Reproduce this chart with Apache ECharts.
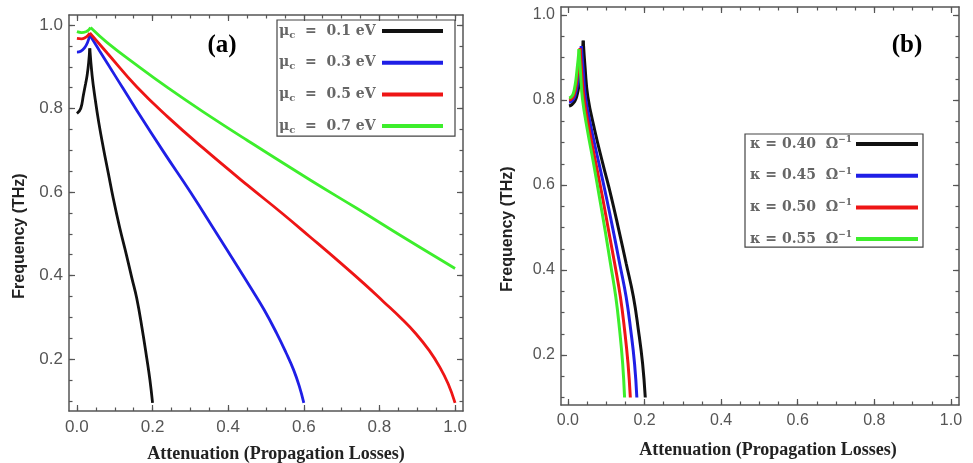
<!DOCTYPE html>
<html>
<head>
<meta charset="utf-8">
<script src="https://cdn.jsdelivr.net/npm/echarts@6/dist/echarts.min.js"></script>
<style>
  html, body { margin: 0; padding: 0; background: #fff; }
  #chart { width: 973px; height: 463px; }
</style>
</head>
<body>
<div id="chart"></div>
<script>
// tick labels
const xTicks = [0, 0.2, 0.4, 0.6, 0.8, 1.0];
const yTicks = [0.2, 0.4, 0.6, 0.8, 1.0];

// (a) chemical potential, [attenuation, frequency]
const muValues = ['0.1', '0.3', '0.5', '0.7'];
const mu01 = [[0.000,0.788],[0.010,0.800],[0.017,0.832],[0.023,0.860],[0.027,0.880],[0.031,0.910],[0.034,0.944],
  [0.040,0.880],[0.048,0.824],[0.058,0.765],[0.070,0.705],[0.083,0.645],[0.096,0.585],[0.113,0.515],[0.131,0.449],
  [0.145,0.395],[0.158,0.346],[0.172,0.275],[0.185,0.200],[0.193,0.150],[0.200,0.095]];
const mu03 = [[0.000,0.935],[0.010,0.937],[0.020,0.945],[0.028,0.958],[0.034,0.976],
  [0.060,0.938],[0.100,0.880],[0.158,0.796],[0.230,0.695],[0.300,0.600],[0.370,0.500],[0.420,0.428],[0.458,0.373],
  [0.495,0.318],[0.528,0.262],[0.553,0.215],[0.573,0.174],[0.588,0.135],[0.600,0.095]];
const mu05 = [[0.000,0.968],[0.012,0.967],[0.022,0.970],[0.029,0.975],[0.034,0.981],
  [0.080,0.933],[0.158,0.852],[0.240,0.780],[0.334,0.705],[0.450,0.617],[0.540,0.551],[0.616,0.493],[0.700,0.428],
  [0.760,0.380],[0.810,0.338],[0.858,0.297],[0.897,0.260],[0.932,0.220],[0.960,0.180],[0.982,0.140],[1.000,0.095]];
const mu07 = [[0.000,0.984],[0.012,0.982],[0.024,0.984],[0.031,0.988],[0.036,0.994],
  [0.080,0.958],[0.158,0.904],[0.240,0.850],[0.334,0.792],[0.450,0.724],[0.620,0.627],[0.740,0.561],[0.870,0.488],
  [1.000,0.417]];

// (b) conductivity
const kappaValues = ['0.40', '0.45', '0.50', '0.55'];
const k040 = [[0.003,0.786],[0.010,0.789],[0.018,0.797],[0.024,0.812],[0.029,0.836],[0.033,0.870],[0.037,0.905],[0.040,0.940],
  [0.045,0.875],[0.052,0.808],[0.070,0.729],[0.091,0.651],[0.113,0.573],[0.133,0.494],[0.152,0.416],[0.171,0.337],
  [0.184,0.259],[0.195,0.180],[0.202,0.100]];
const k045 = [[0.003,0.795],[0.009,0.797],[0.016,0.804],[0.021,0.818],[0.026,0.842],[0.029,0.872],[0.032,0.900],[0.035,0.927],
  [0.040,0.870],[0.046,0.806],[0.062,0.729],[0.081,0.651],[0.100,0.573],[0.118,0.494],[0.135,0.416],[0.152,0.337],
  [0.164,0.259],[0.174,0.180],[0.180,0.100]];
const k050 = [[0.003,0.800],[0.008,0.802],[0.014,0.808],[0.019,0.822],[0.023,0.845],[0.026,0.872],[0.029,0.898],[0.032,0.922],
  [0.036,0.866],[0.042,0.804],[0.056,0.729],[0.073,0.651],[0.090,0.573],[0.106,0.494],[0.122,0.416],[0.137,0.337],
  [0.148,0.259],[0.157,0.180],[0.163,0.100]];
const k055 = [[0.003,0.805],[0.008,0.807],[0.013,0.813],[0.017,0.826],[0.021,0.848],[0.024,0.873],[0.027,0.898],[0.029,0.920],
  [0.033,0.864],[0.038,0.803],[0.051,0.729],[0.067,0.651],[0.082,0.573],[0.097,0.494],[0.111,0.416],[0.125,0.337],
  [0.135,0.259],[0.143,0.180],[0.148,0.100]];

const colors = ['#111111', '#1f1fe6', '#ee1515', '#3dee2c'];
const frameColor = '#555';

const chart = echarts.init(document.getElementById('chart'));

function steps(from, to, step) {
  const out = [];
  for (let v = from; v <= to + 1e-9; v += step) out.push(+v.toFixed(3));
  return out;
}

// one side of the frame: the line + ticks (and labels if asked)
function axis(gridIndex, pos, range, ticks, len, labelSize) {
  return {
    type: 'value', gridIndex, position: pos, min: range[0], max: range[1],
    axisLine: { show: len > 4, onZero: false, lineStyle: { color: frameColor, width: 1.5 } },
    axisTick: { show: true, inside: true, length: len, customValues: ticks, lineStyle: { color: frameColor, width: 1.2 } },
    axisLabel: labelSize ? {
      show: true, customValues: ticks, formatter: v => v.toFixed(1),
      fontFamily: 'Liberation Sans', fontSize: labelSize, color: '#555', margin: pos === 'left' ? 6 : 8
    } : { show: false },
    splitLine: { show: false }
  };
}

function frame(gridIndex, xr, yr, labelSize) {
  const xMinor = steps(0, 1, 0.05), yMinor = steps(0.1, 1, 0.05);
  return {
    x: [axis(gridIndex, 'bottom', xr, xTicks, 6, labelSize), axis(gridIndex, 'bottom', xr, xMinor, 3.5),
        axis(gridIndex, 'top', xr, xTicks, 6), axis(gridIndex, 'top', xr, xMinor, 3.5)],
    y: [axis(gridIndex, 'left', yr, yTicks, 6, labelSize), axis(gridIndex, 'left', yr, yMinor, 3.5),
        axis(gridIndex, 'right', yr, yTicks, 6), axis(gridIndex, 'right', yr, yMinor, 3.5)]
  };
}

// rise and fall drawn separately so the cusp stays sharp
function curve(name, pts, color, axisIndex, width) {
  let k = 0;
  pts.forEach((p, i) => { if (p[1] > pts[k][1]) k = i; });
  const base = {
    name, type: 'line', xAxisIndex: axisIndex, yAxisIndex: axisIndex, symbol: 'none', smooth: 0.45,
    lineStyle: { color, width }, itemStyle: { color }, emphasis: { disabled: true }, animation: false
  };
  return [{ ...base, data: pts.slice(0, k + 1) }, { ...base, data: pts.slice(k) }];
}

const leftNames = muValues.map(v => 'μc = ' + v + ' eV');
const rightNames = kappaValues.map(v => 'κ = ' + v + ' Ω-1');
const leftCurves = [mu01, mu03, mu05, mu07];
const rightCurves = [k040, k045, k050, k055];

const fa = frame(0, [-0.021, 1.021], [0.0755, 1.024], 17);
const fb = frame(1, [-0.018, 1.021], [0.0824, 1.019], 16);

const series = [];
leftCurves.forEach((c, i) => series.push(...curve(leftNames[i], c, colors[i], 0, 2.8)));
rightCurves.forEach((c, i) => series.push(...curve(rightNames[i], c, colors[i], 4, 3)));

const legendText = {
  fontFamily: 'DejaVu Serif', fontWeight: 'bold', fontSize: 14, color: '#666',
  rich: {
    m: { fontFamily: 'DejaVu Serif', fontWeight: 'bold', fontSize: 14, color: '#666', lineHeight: 18, align: 'left' },
    s: { fontFamily: 'DejaVu Serif', fontWeight: 'bold', fontSize: 10, color: '#666', verticalAlign: 'bottom', padding: [5, 0, 0, 0], align: 'left' },
    p: { fontFamily: 'DejaVu Serif', fontWeight: 'bold', fontSize: 9, color: '#666', verticalAlign: 'top', align: 'left' }
  }
};

const option = {
  backgroundColor: '#fff',
  animation: false,
  grid: [
    { left: 69, top: 15, width: 394, height: 396, outerBoundsMode: 'none' },
    { left: 561, top: 7, width: 398, height: 398, outerBoundsMode: 'none' }
  ],
  xAxis: [...fa.x, ...fb.x],
  yAxis: [...fa.y, ...fb.y],
  legend: [
    {
      data: leftNames, left: 277, top: 20, orient: 'vertical', align: 'right', icon: 'rect',
      itemWidth: 61, itemHeight: 4, itemGap: 15.7, padding: [4, 12, 1, 2],
      borderColor: '#444', borderWidth: 1.2, selectedMode: false, itemStyle: { borderWidth: 0 },
      formatter: name => '{m|μ}{s|c}{m|  =  ' + muValues[leftNames.indexOf(name)] + ' eV}',
      textStyle: { ...legendText, width: 98 }
    },
    {
      data: rightNames, left: 745, top: 134, orient: 'vertical', align: 'right', icon: 'rect',
      itemWidth: 62, itemHeight: 4, itemGap: 15.7, padding: [1, 5, 1, 5],
      borderColor: '#444', borderWidth: 1.2, selectedMode: false, itemStyle: { borderWidth: 0 },
      formatter: name => '{m|κ = ' + kappaValues[rightNames.indexOf(name)] + '  Ω}{p|−1}',
      textStyle: { ...legendText, width: 101 }
    }
  ],
  graphic: [
    { type: 'text', x: 20, y: 236, rotation: Math.PI / 2,
      style: { text: 'Frequency (THz)', font: 'bold 16px "Liberation Sans"', fill: '#222', align: 'center', verticalAlign: 'middle', textAlign: 'center', textVerticalAlign: 'middle' } },
    { type: 'text', x: 508, y: 229, rotation: Math.PI / 2,
      style: { text: 'Frequency (THz)', font: 'bold 16px "Liberation Sans"', fill: '#222', align: 'center', verticalAlign: 'middle', textAlign: 'center', textVerticalAlign: 'middle' } },
    { type: 'text', x: 276, y: 454,
      style: { text: 'Attenuation (Propagation Losses)', font: 'bold 18px "Liberation Serif"', fill: '#222', align: 'center', verticalAlign: 'middle', textAlign: 'center', textVerticalAlign: 'middle' } },
    { type: 'text', x: 768, y: 450,
      style: { text: 'Attenuation (Propagation Losses)', font: 'bold 18px "Liberation Serif"', fill: '#222', align: 'center', verticalAlign: 'middle', textAlign: 'center', textVerticalAlign: 'middle' } },
    { type: 'text', x: 222, y: 46,
      style: { text: '(a)', font: 'bold 25px "Liberation Serif"', fill: '#000', align: 'center', verticalAlign: 'middle', textAlign: 'center', textVerticalAlign: 'middle' } },
    { type: 'text', x: 907, y: 46,
      style: { text: '(b)', font: 'bold 25px "Liberation Serif"', fill: '#000', align: 'center', verticalAlign: 'middle', textAlign: 'center', textVerticalAlign: 'middle' } }
  ],
  series
};

chart.setOption(option);
</script>
</body>
</html>
